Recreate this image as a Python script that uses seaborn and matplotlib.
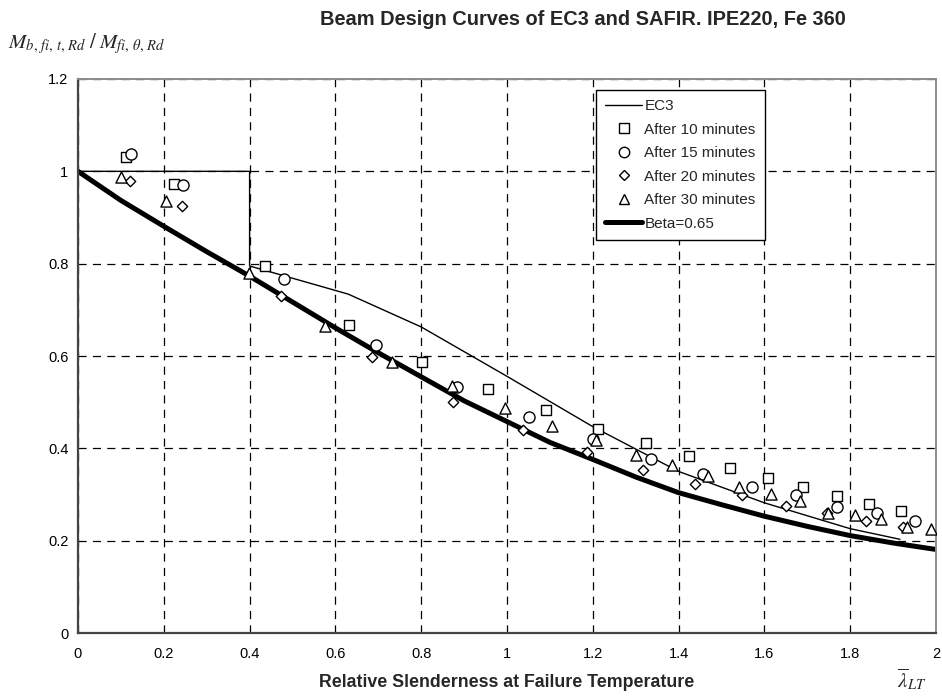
import matplotlib
matplotlib.use("Agg")
import matplotlib.pyplot as plt
import seaborn as sns
from matplotlib.lines import Line2D

# EC3 design curve (thin line, with the plateau box up to 0.4)
ec3_x = [0.0, 0.4, 0.4, 0.63, 0.8, 1.0, 1.2, 1.4, 1.6, 1.8, 1.916]
ec3_y = [1.0, 1.0, 0.795, 0.734, 0.663, 0.556, 0.447, 0.350, 0.282, 0.226, 0.203]

# Beta=0.65 curve (thick line)
beta_x = [0.0, 0.1, 0.2, 0.3, 0.4, 0.5, 0.6, 0.7, 0.8, 0.9, 1.0,
          1.1, 1.2, 1.3, 1.4, 1.5, 1.6, 1.7, 1.8, 1.9, 2.0]
beta_y = [1.0, 0.937, 0.881, 0.826, 0.773, 0.717, 0.661, 0.607, 0.555, 0.503, 0.458,
          0.413, 0.376, 0.338, 0.304, 0.278, 0.253, 0.231, 0.211, 0.195, 0.181]

# SAFIR results
t10_x = [0.111, 0.223, 0.437, 0.632, 0.803, 0.955, 1.091, 1.211, 1.323, 1.425,
         1.520, 1.608, 1.691, 1.770, 1.845, 1.918]
t10_y = [1.031, 0.972, 0.794, 0.667, 0.588, 0.529, 0.483, 0.442, 0.411, 0.383,
         0.357, 0.335, 0.316, 0.296, 0.280, 0.264]

t15_x = [0.123, 0.245, 0.481, 0.695, 0.884, 1.052, 1.201, 1.335, 1.456, 1.570,
         1.674, 1.770, 1.863, 1.950]
t15_y = [1.037, 0.971, 0.767, 0.623, 0.532, 0.467, 0.420, 0.377, 0.345, 0.317,
         0.298, 0.274, 0.259, 0.243]

t20_x = [0.121, 0.243, 0.473, 0.686, 0.873, 1.038, 1.186, 1.318, 1.438, 1.549,
         1.650, 1.747, 1.837, 1.922]
t20_y = [0.979, 0.924, 0.729, 0.597, 0.501, 0.440, 0.393, 0.354, 0.322, 0.299,
         0.276, 0.259, 0.243, 0.229]

t30_x = [0.100, 0.204, 0.398, 0.576, 0.732, 0.871, 0.995, 1.106, 1.207, 1.300,
         1.385, 1.468, 1.541, 1.615, 1.683, 1.749, 1.811, 1.872, 1.932, 1.988]
t30_y = [0.987, 0.935, 0.779, 0.664, 0.586, 0.534, 0.487, 0.449, 0.418, 0.386,
         0.364, 0.340, 0.317, 0.301, 0.285, 0.261, 0.256, 0.247, 0.230, 0.225]

x_ticks = [0, 0.2, 0.4, 0.6, 0.8, 1.0, 1.2, 1.4, 1.6, 1.8, 2.0]
x_labels = ["0", "0.2", "0.4", "0.6", "0.8", "1", "1.2", "1.4", "1.6", "1.8", "2"]
y_ticks = [0, 0.2, 0.4, 0.6, 0.8, 1.0, 1.2]
y_labels = ["0", "0.2", "0.4", "0.6", "0.8", "1", "1.2"]

sns.set_theme(style="white")
plt.rcParams["font.family"] = ["Liberation Sans", "DejaVu Sans"]
plt.rcParams["mathtext.fontset"] = "stix"

fig = plt.figure(figsize=(9.42, 6.96), dpi=100)
ax = fig.add_axes([0.0828, 0.0905, 0.9108, 0.796])

sns.lineplot(x=ec3_x, y=ec3_y, ax=ax, color="black", lw=1.0,
             sort=False, estimator=None, zorder=2)
sns.lineplot(x=beta_x, y=beta_y, ax=ax, color="black", lw=3.6,
             sort=False, estimator=None, zorder=2)

series = [(t10_x, t10_y, "s", 60), (t15_x, t15_y, "o", 64),
          (t20_x, t20_y, "D", 28), (t30_x, t30_y, "^", 64)]
for xs, ys, mk, sz in series:
    sns.scatterplot(x=xs, y=ys, ax=ax, marker=mk, s=sz, facecolor="white",
                    edgecolor="black", linewidth=1.0, zorder=3)

ax.set_xlim(0, 2)
ax.set_ylim(0, 1.2)
ax.set_xticks(x_ticks)
ax.set_xticklabels(x_labels)
ax.set_yticks(y_ticks)
ax.set_yticklabels(y_labels)
ax.tick_params(axis="both", labelsize=10.5, colors="#333333", labelcolor="black")
ax.tick_params(axis="x", direction="inout", length=6, width=1, pad=7)
ax.tick_params(axis="y", direction="out", length=5, width=1, pad=2)
ax.grid(True, color="black", lw=0.9, linestyle=(0, (6.5, 5)))

for side in ["left", "bottom"]:
    ax.spines[side].set_color("#444444")
    ax.spines[side].set_linewidth(1.6)
for side in ["top", "right"]:
    ax.spines[side].set_color("#8c8c8c")
    ax.spines[side].set_linewidth(1.4)

handles = [
    Line2D([], [], color="black", lw=1.0),
    Line2D([], [], ls="none", marker="s", ms=7.2, mfc="white", mec="black", mew=1),
    Line2D([], [], ls="none", marker="o", ms=7.5, mfc="white", mec="black", mew=1),
    Line2D([], [], ls="none", marker="D", ms=5.0, mfc="white", mec="black", mew=1),
    Line2D([], [], ls="none", marker="^", ms=7.5, mfc="white", mec="black", mew=1),
    Line2D([], [], color="black", lw=3.6),
]
labels = ["EC3", "After 10 minutes", "After 15 minutes", "After 20 minutes",
          "After 30 minutes", "Beta=0.65"]
leg = ax.legend(handles, labels, loc="upper left", bbox_to_anchor=(0.604, 0.980),
                fontsize=11, frameon=True, fancybox=False, framealpha=1,
                edgecolor="black", handlelength=2.4, handletextpad=0.15,
                borderpad=0.6, labelspacing=0.62, borderaxespad=0)
leg.get_frame().set_linewidth(1.0)

fig.text(0.619, 0.972, "Beam Design Curves of EC3 and SAFIR. IPE220, Fe 360",
         ha="center", va="center", fontsize=14.4, fontweight="bold")
fig.text(0.008, 0.938, r"$M_{b,\,fi,\,t,\,Rd}\;/\;M_{fi,\,\theta,\,Rd}$",
         ha="left", va="center", fontsize=15)
fig.text(0.538, 0.02, "Relative Slenderness at Failure Temperature",
         ha="center", va="center", fontsize=12.8, fontweight="bold")
fig.text(0.968, 0.025, r"$\overline{\lambda}_{LT}$", ha="center", va="center",
         fontsize=15)

fig.savefig("out.png", dpi=100)
